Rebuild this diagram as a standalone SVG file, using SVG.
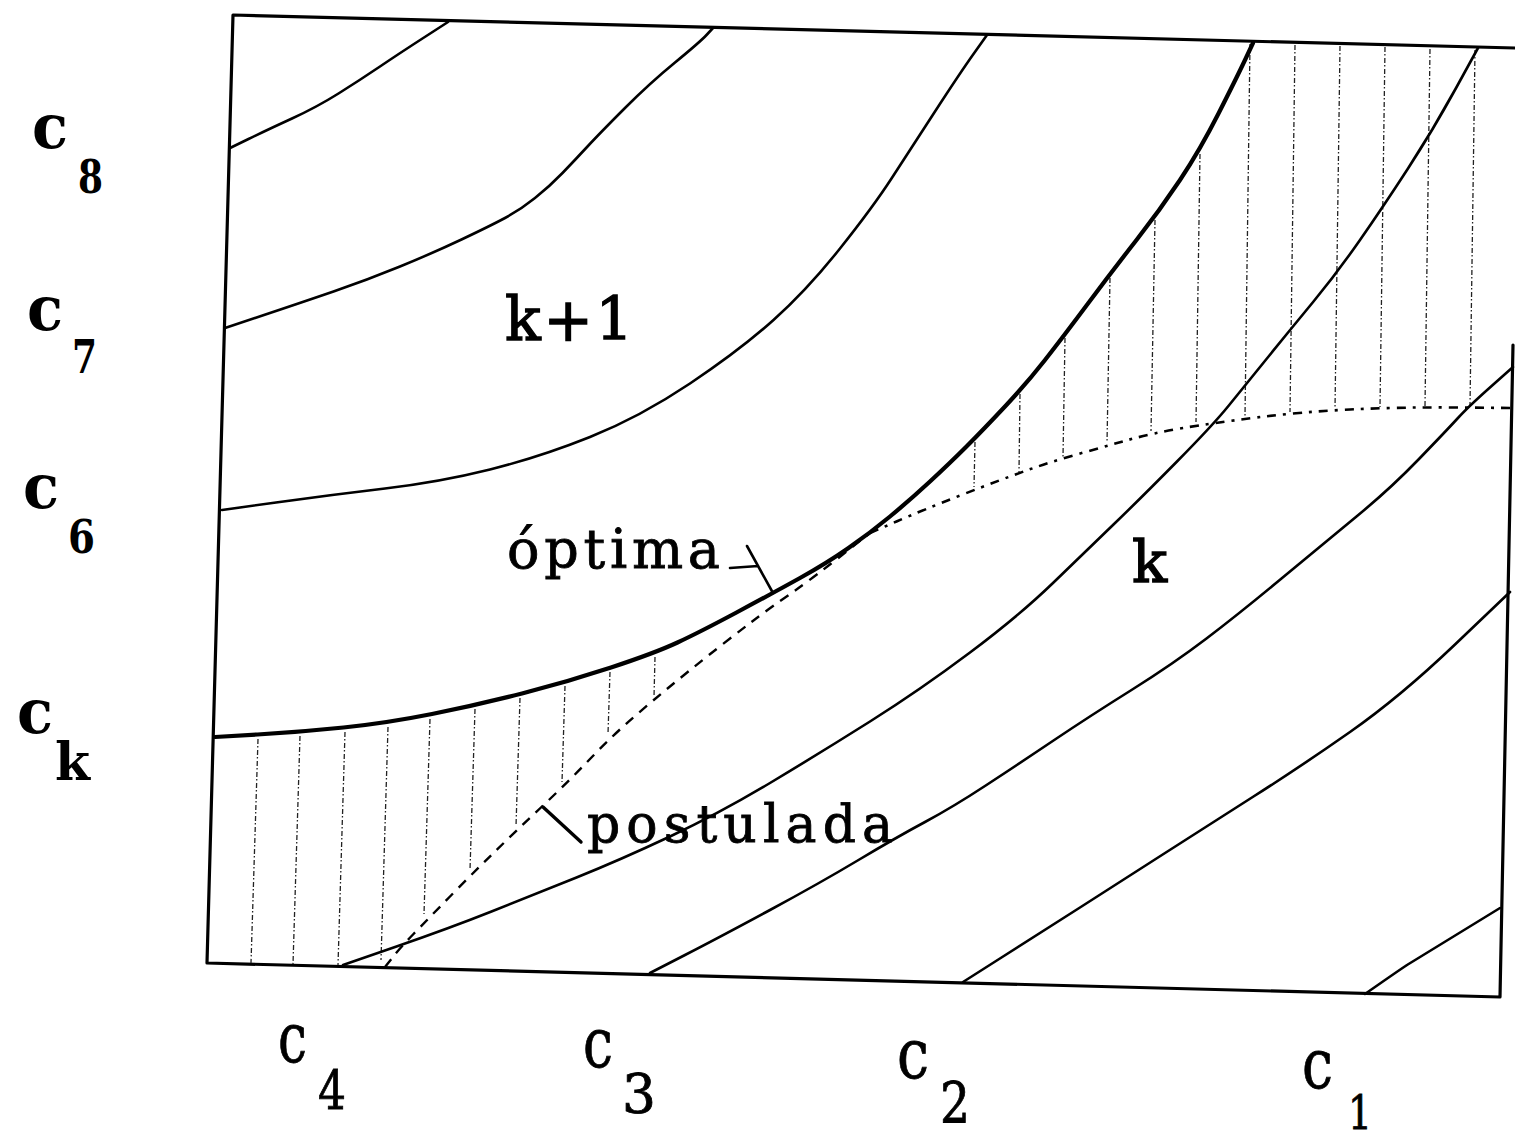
<svg xmlns="http://www.w3.org/2000/svg" width="1515" height="1137" viewBox="0 0 1515 1137">
<style>
.frame{fill:none;stroke:#000;stroke-width:3.2;stroke-linejoin:round;stroke-linecap:round}
.curve{fill:none;stroke:#000;stroke-width:2.6;stroke-linejoin:round;stroke-linecap:round}
.thick{fill:none;stroke:#000;stroke-width:4.2;stroke-linejoin:round;stroke-linecap:round}
.dash{fill:none;stroke:#000;stroke-width:2.4;stroke-dasharray:10 8}
.dashdot{fill:none;stroke:#000;stroke-width:2.6;stroke-dasharray:9 7 3 7}
.hatch{fill:none;stroke:#222;stroke-width:1.3;stroke-dasharray:5 2 1.5 2.5}
.ptr{fill:none;stroke:#000;stroke-width:2.6;stroke-linecap:round}
.lbl{font-family:"DejaVu Serif","Liberation Serif",serif;fill:#000;stroke:#000;stroke-width:0.8}
.big{stroke-width:1.3}
.ax{font-family:"DejaVu Serif","Liberation Serif",serif;fill:#000;font-weight:bold}
</style>
<rect width="1515" height="1137" fill="#fff"/>
<g id="frame">
<path class="frame" d="M1515,48 L233,15 L207,963 L1500,997 L1513,345"/>
</g>
<g id="hatch-lower">
<path class="hatch" d="M258,739 L251,963 M300,736 L293,964 M345,732 L338,965 M388,727 L381,960 M430,719 L424,914 M475,709 L470,870 M520,698 L516,826 M565,686 L562,782 M610,672 L608,734 M655,657 L654,697"/>
</g>
<g id="hatch-upper">
<path class="hatch" d="M975,442 L974,487 M1020,394 L1019,472 M1065,338 L1063,457 M1110,278 L1107,443 M1155,220 L1151,431 M1200,154 L1196,422 M1250,44 L1245,416 M1295,45 L1290,412 M1340,46 L1335,409 M1385,47 L1380,407 M1430,49 L1425,406 M1475,50 L1470,406"/>
</g>
<g id="curves">
<path id="curve-c8" class="curve" d="M230,148 L248.5,139 Q267,130 292,118.5 Q317,107 338.5,93.5 Q360,80 380,66.5 Q400,53 424,37.5 L448,22"/>
<path id="curve-c7" class="curve" d="M225,328 L262.5,315.5 Q300,303 333.5,291.5 Q367,280 400,266.5 Q433,253 461.5,239.5 Q490,226 505,218 Q520,210 535,198 Q550,186 562.5,173 Q575,160 587.5,146.5 Q600,133 625,108 Q650,83 675,62.5 Q700,42 706.5,35 L713,28"/>
<path id="curve-c6" class="curve" d="M222,510 L276,502.5 Q330,495 385,488.5 Q440,482 490,469.5 Q540,457 590,437 Q640,417 690,383.5 Q740,350 773.5,320 Q807,290 840,248.5 Q873,207 891.5,178.5 Q910,150 935,111.5 Q960,73 973.5,54 L987,35"/>
<path id="curve-ck" class="thick" d="M215,737 L257.5,734.5 Q300,732 343.5,727.5 Q387,723 432,714 Q477,705 522,693.5 Q567,682 611,667.5 Q655,653 677.5,642.5 Q700,632 736.5,612.5 Q773,593 800,578 Q827,563 848.5,548 Q870,533 890,516.5 Q910,500 930,481.5 Q950,463 966.5,446.5 Q983,430 1005,406.5 Q1027,383 1045,360 Q1063,337 1088,303.5 Q1113,270 1136.5,240 Q1160,210 1180,180 Q1200,150 1218.5,113.5 Q1237,77 1245,60 L1253,43"/>
<path id="curve-c3" class="curve" d="M343,965 L396.5,946.5 Q450,928 491.5,911.5 Q533,895 576.5,877.5 Q620,860 670,836.5 Q720,813 770,783 Q820,753 870,721.5 Q920,690 970,652.5 Q1020,615 1053.5,582.5 Q1087,550 1113.5,524.5 Q1140,499 1176.5,462 Q1213,425 1228,406.5 Q1243,388 1266.5,359 Q1290,330 1313.5,301.5 Q1337,273 1360,240 Q1383,207 1408,168.5 Q1433,130 1455.5,89 L1478,48"/>
<path id="curve-c2" class="curve" d="M650,973 L685,955 Q720,937 770,910 Q820,883 858.5,860 Q897,837 925,822 Q953,807 986.5,785 Q1020,763 1055,739.5 Q1090,716 1131.5,690 Q1173,664 1206.5,638.5 Q1240,613 1281.5,578.5 Q1323,544 1356.5,516.5 Q1390,489 1418.5,459.5 Q1447,430 1457.5,418.5 Q1468,407 1490.5,387 L1513,367"/>
<path id="curve-c1" class="curve" d="M963,982 L1001.5,957.5 Q1040,933 1080,907.5 Q1120,882 1163.5,854 Q1207,826 1253.5,796.5 Q1300,767 1350,732 Q1400,697 1455,644.5 L1510,592"/>
<path id="curve-c0" class="curve" d="M1365,994 Q1395,973 1407,965 L1500,908"/>
<path id="postulada-line" class="dash" d="M385,967 L392.5,957.5 Q400,948 413.5,934 Q427,920 450,896.5 Q473,873 495,851.5 Q517,830 542,806.5 Q567,783 590,759 Q613,735 635,716 Q657,697 678.5,679.5 Q700,662 718.5,647.5 Q737,633 753.5,620.5 Q770,608 791.5,593 Q813,578 841.5,555.5 L870,533"/>
<path id="postulada-ext" class="dashdot" d="M870,533 L896.5,521.5 Q923,510 961.5,495 Q1000,480 1025,471 Q1050,462 1076.5,454.5 Q1103,447 1128,440 Q1153,433 1183,428 Q1213,423 1256.5,417.5 Q1300,412 1350,409.5 Q1400,407 1456.5,407.5 L1513,408"/>
</g>
<g id="pointers">
<path class="ptr" d="M730,568 L758,566 M747,546 L773,593"/>
<path class="ptr" style="stroke-width:3.4" d="M543,807 L581,842"/>
</g>
<g id="labels">
<text class="lbl big" x="505" y="340" font-size="59" textLength="128" lengthAdjust="spacing">k+1</text>
<text class="lbl" x="507" y="568" font-size="54" textLength="213" lengthAdjust="spacing">óptima</text>
<text class="lbl" x="587" y="842" font-size="52" textLength="306" lengthAdjust="spacing">postulada</text>
<text class="lbl big" x="1132" y="582" font-size="58">k</text>
</g>
<g id="axis-left">
<text class="ax" x="32" y="148" font-size="62" textLength="36" lengthAdjust="spacingAndGlyphs">c</text>
<text class="ax" x="78" y="193" font-size="46" textLength="25" lengthAdjust="spacingAndGlyphs">8</text>
<text class="ax" x="27" y="330" font-size="62" textLength="36" lengthAdjust="spacingAndGlyphs">c</text>
<text class="ax" x="72" y="373" font-size="46" textLength="25" lengthAdjust="spacingAndGlyphs">7</text>
<text class="ax" x="23" y="508" font-size="62" textLength="36" lengthAdjust="spacingAndGlyphs">c</text>
<text class="ax" x="68" y="553" font-size="46" textLength="27" lengthAdjust="spacingAndGlyphs">6</text>
<text class="ax" x="17" y="733" font-size="62" textLength="36" lengthAdjust="spacingAndGlyphs">c</text>
<text class="ax" x="55" y="780" font-size="52" textLength="35" lengthAdjust="spacingAndGlyphs">k</text>
</g>
<g id="axis-bottom">
<text class="lbl" x="278" y="1062" font-size="70" textLength="29" lengthAdjust="spacingAndGlyphs">c</text>
<text class="lbl" x="318" y="1110" font-size="54" textLength="28" lengthAdjust="spacingAndGlyphs">4</text>
<text class="lbl" x="583" y="1067" font-size="70" textLength="30" lengthAdjust="spacingAndGlyphs">c</text>
<text class="lbl" x="622" y="1113" font-size="54" textLength="34" lengthAdjust="spacingAndGlyphs">3</text>
<text class="lbl" x="897" y="1078" font-size="70" textLength="32" lengthAdjust="spacingAndGlyphs">c</text>
<text class="lbl" x="940" y="1122" font-size="56" textLength="30" lengthAdjust="spacingAndGlyphs">2</text>
<text class="lbl" x="1302" y="1088" font-size="70" textLength="31" lengthAdjust="spacingAndGlyphs">c</text>
<text class="lbl" x="1348" y="1129" font-size="46" textLength="24" lengthAdjust="spacingAndGlyphs">1</text>
</g>
</svg>
